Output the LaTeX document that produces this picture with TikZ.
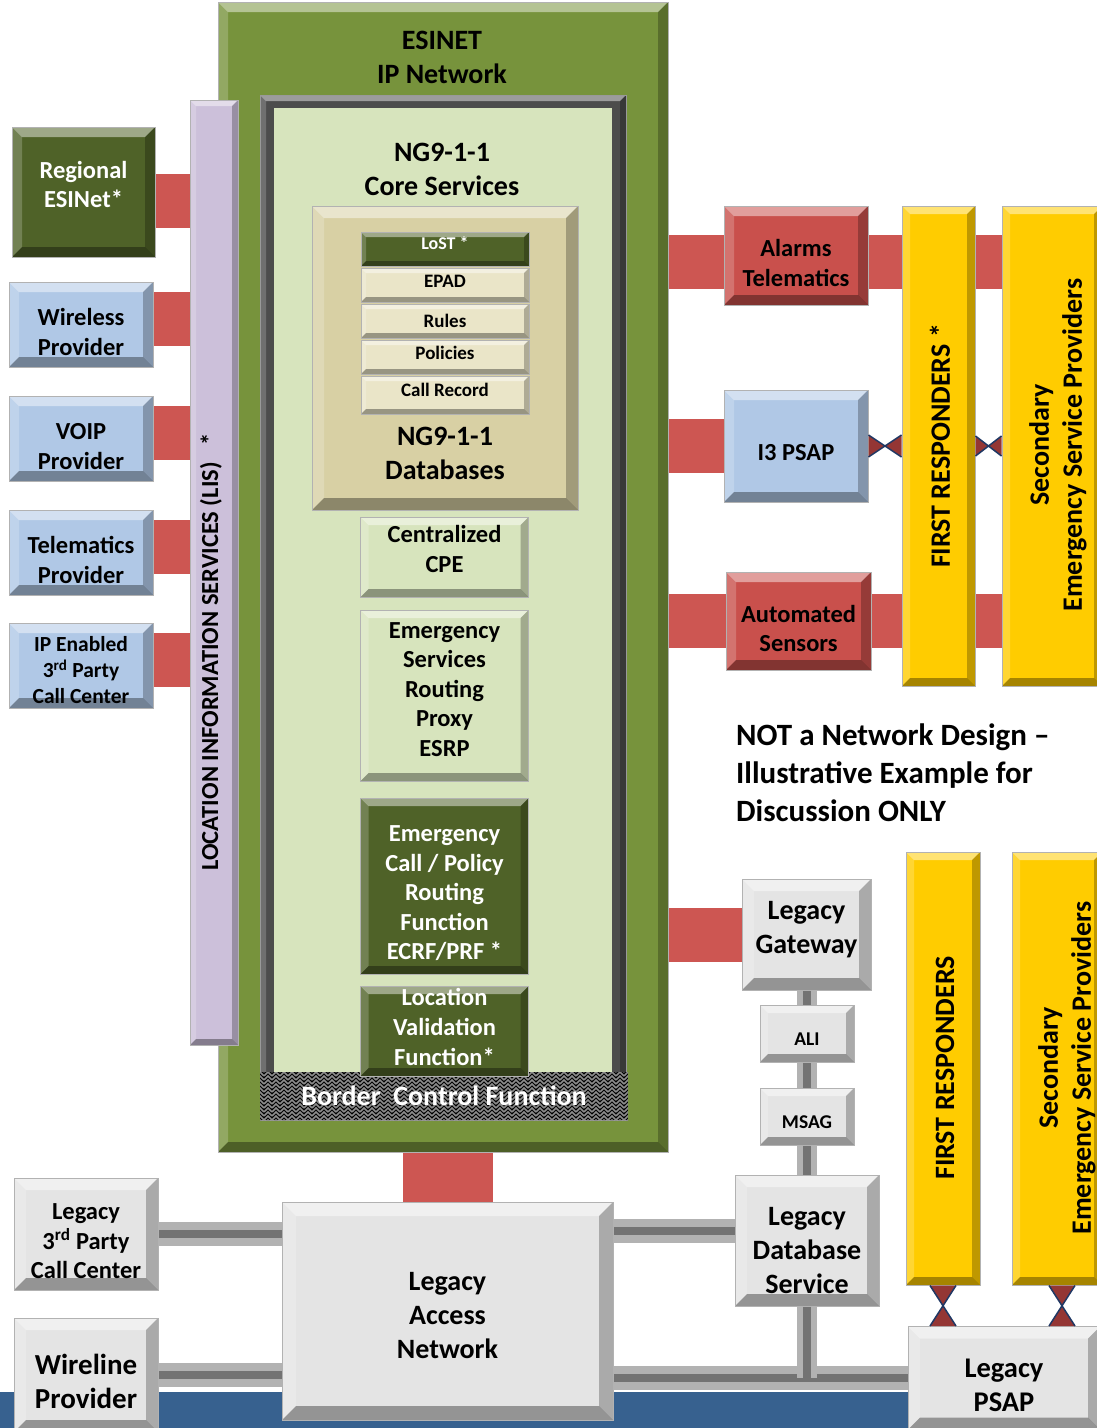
\documentclass[tikz,border=0pt]{standalone}
\usepackage{fontspec}
\setmainfont{Carlito}
\usepackage{xcolor}
\usepackage{tikz}
\usetikzlibrary{positioning}
\usetikzlibrary{patterns}
\usetikzlibrary{backgrounds}

\definecolor{esigreen}{HTML}{77933C}
\definecolor{darkolive}{HTML}{4F6228}
\definecolor{palegreen}{HTML}{D7E4BD}
\definecolor{dbtan}{HTML}{D8D0A4}
\definecolor{lighttan}{HTML}{EAE5C8}
\definecolor{lisviolet}{HTML}{CCC0DA}
\definecolor{provblue}{HTML}{B0C8E6}
\definecolor{linkred}{HTML}{CD5652}
\definecolor{boxred}{HTML}{C9504C}
\definecolor{respyellow}{HTML}{FFCC00}
\definecolor{legacygray}{HTML}{E4E4E4}
\definecolor{stripblue}{HTML}{37618F}
\definecolor{bownavy}{HTML}{1F3864}
\definecolor{bowred}{HTML}{943634}

\pgfdeclarepatternformonly{bcfweave}{\pgfqpoint{-1pt}{-1pt}}{\pgfqpoint{9pt}{9pt}}{\pgfqpoint{8pt}{8pt}}{%
	\pgfsetlinewidth{1.6pt}
	\pgfpathmoveto{\pgfqpoint{0pt}{0pt}}\pgfpathlineto{\pgfqpoint{4pt}{4pt}}\pgfpathlineto{\pgfqpoint{8pt}{0pt}}
	\pgfpathmoveto{\pgfqpoint{0pt}{4pt}}\pgfpathlineto{\pgfqpoint{4pt}{8pt}}\pgfpathlineto{\pgfqpoint{8pt}{4pt}}
	\pgfusepath{stroke}}

% box text, lifted or lowered inside its box
\newcommand{\boxtext}[2][0pt]{\raisebox{#1}[\height][\depth]{\begin{tabular}{@{}c@{}}#2\end{tabular}}}

\begin{document}
\begin{tikzpicture}[x=1pt, y=-1pt,
	bevel/.style={path picture={
		\path (path picture bounding box.north west) coordinate (bvnw)
		      (path picture bounding box.north east) coordinate (bvne)
		      (path picture bounding box.south east) coordinate (bvse)
		      (path picture bounding box.south west) coordinate (bvsw);
		\fill[white, opacity=0.45] (bvnw) -- (bvne) -- ([xshift=-#1, yshift=-#1]bvne) -- ([xshift=#1, yshift=-#1]bvnw) -- cycle;
		\fill[white, opacity=0.2] (bvnw) -- (bvsw) -- ([xshift=#1, yshift=#1]bvsw) -- ([xshift=#1, yshift=-#1]bvnw) -- cycle;
		\fill[black, opacity=0.25] (bvne) -- (bvse) -- ([xshift=-#1, yshift=#1]bvse) -- ([xshift=-#1, yshift=-#1]bvne) -- cycle;
		\fill[black, opacity=0.35] (bvsw) -- (bvse) -- ([xshift=-#1, yshift=#1]bvse) -- ([xshift=#1, yshift=#1]bvsw) -- cycle;
	}},
	bevel/.default=10pt,
	box/.style={rectangle, draw=black!30, line width=1pt, align=center, inner sep=0pt, bevel},
	f19/.style={font=\bfseries\fontsize{19}{23}\selectfont},
	f21/.style={font=\bfseries\fontsize{21.5}{26}\selectfont},
	f24/.style={font=\bfseries\fontsize{24.5}{29.5}\selectfont},
	f28/.style={font=\bfseries\fontsize{28}{34}\selectfont},
	f31/.style={font=\bfseries\fontsize{31}{38}\selectfont},
	provider/.style={box, fill=provblue, minimum width=144pt, minimum height=85pt, f24},
	stackbox/.style={box, fill=lighttan, minimum width=168pt, minimum height=34pt, bevel=5pt, f19},
	corebox/.style={box, fill=palegreen, minimum width=168pt, bevel=8pt, f24},
	olivebox/.style={box, fill=darkolive, text=white, minimum width=168pt, bevel=8pt, f24},
	legacy/.style={box, fill=legacygray, bevel=12pt, f28},
	resp/.style={box, fill=respyellow, bevel=8pt},
	resptext/.style={rotate=90, align=center, font=\bfseries\fontsize{28}{33}\selectfont},
	redlink/.style={draw=linkred, line width=54pt},
	graylink/.style={draw=black!30, line width=24pt, postaction={draw=black!55, line width=8pt}}]

	\useasboundingbox (0,0) rectangle (1097,1428);

	% ESInet and core services
	\node[box, fill=esigreen, minimum width=450pt, minimum height=1150pt] (esinet) at (443,577) {};
	\node[f28, align=center] (esititle) at (442,57) {ESINET\\IP Network};
	\node[fill=black!70, draw=black!40, minimum width=366pt, minimum height=1025pt, bevel=6pt] (core) at (443,607.5) {};
	\node[fill=palegreen, minimum width=338pt, minimum height=964pt] (coreinner) at (443,590) {};
	\node[fill=black, postaction={pattern=bcfweave, pattern color=black!45}, minimum width=368pt, minimum height=48pt, text=white, f28] (bcf) at (444,1096) {Border\ \ Control Function};
	\node[f28, align=center] (coretitle) at (442,169) {NG9-1-1\\Core Services};

	% databases
	\node[box, fill=dbtan, minimum width=266pt, minimum height=304pt, bevel=12pt] (db) at (445,358) {};
	\node[f28, align=center] (dbtitle) at (445,453) {NG9-1-1\\Databases};
	\node[stackbox, fill=darkolive, text=white, font=\bfseries\fontsize{18}{22}\selectfont] (lost) at (445,249) {\boxtext[4pt]{LoST *}};
	\node[stackbox, below=1pt of lost] (epad) {\boxtext[2pt]{EPAD}};
	\node[stackbox, below=1pt of epad] (rules) {Rules};
	\node[stackbox, below=1pt of rules] (policies) {\boxtext[2pt]{Policies}};
	\node[stackbox, below=1pt of policies, minimum height=38pt] (callrec) {\boxtext[3pt]{Call Record}};

	% core functions
	\node[corebox, minimum height=80pt, font=\bfseries\fontsize{24.5}{30}\selectfont] (cpe) at (444.5,557) {\boxtext[6pt]{Centralized\\CPE}};
	\node[corebox, minimum height=171pt, below=12pt of cpe] (esrp) {\boxtext[4pt]{Emergency\\Services\\Routing\\Proxy\\ESRP}};
	\node[olivebox, minimum height=176pt, below=16pt of esrp] (ecrf) {\boxtext[-9pt]{Emergency\\Call / Policy\\Routing\\Function\\ECRF/PRF *}};
	\node[olivebox, minimum height=85pt, below=11pt of ecrf, font=\bfseries\fontsize{24.5}{30}\selectfont] (lvf) {\boxtext[2pt]{Location\\Validation\\Function*}};

	% location information services
	\node[box, fill=lisviolet, minimum width=48pt, minimum height=945pt, bevel=6pt] (lis) at (214,572.5) {};
	\node[rotate=90, f24] (listext) at (211,652) {LOCATION INFORMATION SERVICES (LIS)\ \ \ *};

	% providers on the left
	\node[box, fill=darkolive, text=white, minimum width=143pt, minimum height=130pt, f24] (regional) at (83.5,192) {\boxtext[5pt]{Regional\\ESINet*}};
	\node[provider] (wireless) at (81,324.5) {\boxtext[-10pt]{Wireless\\Provider}};
	\node[provider, below=28pt of wireless] (voip) {\boxtext[-10pt]{VOIP\\Provider}};
	\node[provider, below=28pt of voip] (telematics) {\boxtext[-10pt]{Telematics\\Provider}};
	\node[provider, below=27pt of telematics, f21] (ipcc) {\boxtext[-7pt]{IP Enabled\\3\textsuperscript{rd} Party\\Call Center}};

	% right side
	\node[box, fill=boxred, minimum width=144pt, minimum height=99pt, f24] (alarms) at (796,255.5) {\boxtext[-10pt]{Alarms\\Telematics}};
	\node[box, fill=provblue, minimum width=144pt, minimum height=112pt, f24] (i3) at (796,446) {\boxtext[-9pt]{I3 PSAP}};
	\node[box, fill=boxred, minimum width=145pt, minimum height=98pt, f24] (sensors) at (798.5,621) {\boxtext[-10pt]{Automated\\Sensors}};
	\node[resp, minimum width=73pt, minimum height=480pt] (fra) at (938.5,446) {};
	\node[resptext] (fratext) at (940,446) {FIRST RESPONDERS *};
	\node[resp, minimum width=100pt, minimum height=480pt] (sesa) at (1052,446) {};
	\node[resptext] (sesatext) at (1058,445) {Secondary\\Emergency Service Providers};

	\node[anchor=north west, align=left, inner sep=0pt, f31] (note) at (736,724) {NOT a Network Design --\\Illustrative Example for\\Discussion ONLY};

	% legacy side
	\node[legacy, minimum width=129pt, minimum height=111pt] (gateway) at (806.5,934.5) {\boxtext[5pt]{Legacy\\Gateway}};
	\node[legacy, minimum width=94pt, minimum height=57pt, bevel=8pt, font=\bfseries\fontsize{19.5}{23}\selectfont] (ali) at (807,1033.5) {\boxtext[-7pt]{ALI}};
	\node[legacy, minimum width=94pt, minimum height=57pt, bevel=8pt, font=\bfseries\fontsize{19.5}{23}\selectfont] (msag) at (807,1116.5) {\boxtext[-7pt]{MSAG}};
	\node[legacy, minimum width=144pt, minimum height=131pt] (lds) at (807,1240.5) {\boxtext[-12pt]{Legacy\\Database\\Service}};
	\node[legacy, minimum width=331pt, minimum height=218pt, bevel=14pt] (lan) at (447.5,1311) {\boxtext[-7pt]{Legacy\\Access\\Network}};
	\node[legacy, minimum width=144pt, minimum height=112pt, f24] (legcc) at (86,1234) {\boxtext[-9pt]{Legacy\\3\textsuperscript{rd} Party\\Call Center}};
	\node[legacy, minimum width=144pt, minimum height=114pt, font=\bfseries\fontsize{29}{34}\selectfont] (wireline) at (86,1375) {\boxtext[-10pt]{Wireline\\Provider}};
	\node[legacy, minimum width=192pt, minimum height=103pt, font=\bfseries\fontsize{28.5}{34}\selectfont] (psap) at (1004,1378) {\boxtext[-10pt]{Legacy\\PSAP}};
	\node[resp, minimum width=74pt, minimum height=433pt] (frb) at (943,1068.5) {};
	\node[resptext] (frbtext) at (945,1068) {FIRST RESPONDERS};
	\node[resp, minimum width=90pt, minimum height=433pt] (sesb) at (1057,1068.5) {};
	\node[resptext] (sesbtext) at (1067,1068) {Secondary\\Emergency Service Providers};

	% links
	\begin{scope}[on background layer]
		\fill[stripblue] (0,1392) rectangle (1097,1428);
		\foreach \n/\s in {regional/-9, wireless/6, voip/6, telematics/6, ipcc/6}
			\draw[redlink] ([yshift=\s pt]\n.east) -- ([yshift=\s pt]\n.east -| lis.west);
		\foreach \n/\s in {alarms/-6, i3/0, sensors/0, gateway/0}
			\draw[redlink] ([yshift=\s pt]\n.west) -- ([yshift=\s pt]\n.west -| esinet.east);
		\foreach \n/\s in {alarms/-6, sensors/0} {
			\draw[redlink] ([yshift=\s pt]\n.east) -- ([yshift=\s pt]\n.east -| fra.west);
			\draw[redlink] ([yshift=\s pt]\n.east -| fra.east) -- ([yshift=\s pt]\n.east -| sesa.west);
		}
		\draw[redlink, line width=90pt] (lan.north) -- (lan.north |- esinet.south);
		\draw[graylink] (legcc.east) -- (legcc.east -| lan.west);
		\draw[graylink] (wireline.east) -- (wireline.east -| lan.west);
		\draw[graylink] (lan.east |- psap.west) -- (psap.west);
		\draw[graylink] ([yshift=10pt]lan.east |- lds.west) -- ([yshift=10pt]lds.west);
		\draw[graylink, line width=20pt, postaction={draw=black!55, line width=7pt}] (gateway.south) -- (gateway.south |- psap.west);
	\end{scope}

	% crossed links
	\path (i3.east) coordinate (ta1) (fra.west |- i3.east) coordinate (tb1)
	      (fra.east |- i3.east) coordinate (ta2) (sesa.west |- i3.east) coordinate (tb2)
	      (frb.south) coordinate (ta3) (frb.south |- psap.north) coordinate (tb3)
	      ([xshift=5pt]sesb.south) coordinate (ta4) ([xshift=5pt]sesb.south |- psap.north) coordinate (tb4);
	\foreach \i/\dx/\dy in {1/0/11, 2/0/10, 3/13/0, 4/13/0} {
		\fill[bowred] ([shift={(-\dx,-\dy)}]ta\i) -- ([shift={(\dx,\dy)}]tb\i) -- ([shift={(-\dx,-\dy)}]tb\i) -- ([shift={(\dx,\dy)}]ta\i) -- cycle;
		\draw[bownavy, line width=1.5pt] ([shift={(-\dx,-\dy)}]ta\i) -- ([shift={(\dx,\dy)}]tb\i) ([shift={(\dx,\dy)}]ta\i) -- ([shift={(-\dx,-\dy)}]tb\i);
	}
\end{tikzpicture}
\end{document}
